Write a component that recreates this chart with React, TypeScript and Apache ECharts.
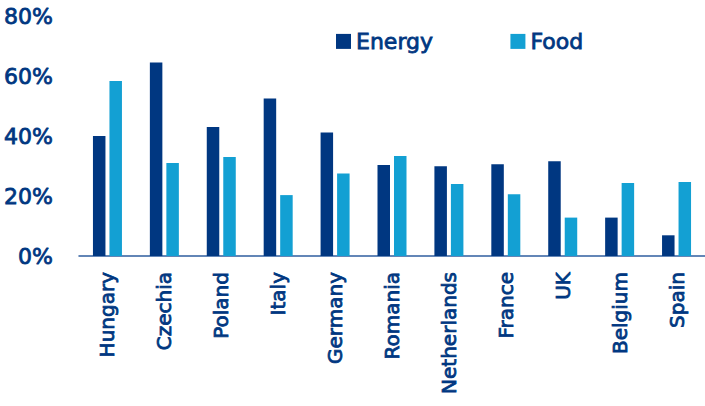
import React, { useEffect, useRef } from "react";
import * as echarts from "echarts";

const categories = ["Hungary", "Czechia", "Poland", "Italy", "Germany", "Romania", "Netherlands", "France", "UK", "Belgium", "Spain"];
const energyValues = [40, 64.5, 43, 52.5, 41.2, 30.3, 29.9, 30.6, 31.6, 12.8, 6.9];
const foodValues = [58.3, 31, 33, 20.3, 27.5, 33.3, 24, 20.6, 12.8, 24.3, 24.7];
const yTicks = [0, 20, 40, 60, 80];

const NAVY = "#003781";
const CYAN = "#13A0D3";
const FONT = "DejaVu Sans";
const THICK = { textBorderColor: NAVY, textBorderWidth: 0.8 };

export default function App() {
  const ref = useRef<HTMLDivElement>(null);
  useEffect(() => {
    if (!ref.current) return;
    const chart = echarts.init(ref.current, undefined, { renderer: "svg" });
    chart.setOption({
      animation: false,
      backgroundColor: "#ffffff",
      legend: {
        left: 331,
        top: 25,
        itemWidth: 15,
        itemHeight: 15,
        itemGap: 77,
        icon: "rect",
        textStyle: { color: NAVY, fontFamily: FONT, fontSize: 22, ...THICK },
        data: ["Energy", "Food"],
      },
      grid: { left: 79, right: 0, top: 16, bottom: 150, containLabel: false },
      xAxis: {
        type: "category",
        data: categories,
        axisLine: { show: true, lineStyle: { color: "#2F5E9F", width: 1.5 } },
        axisTick: { show: false },
        axisLabel: {
          rotate: 90,
          margin: 16,
          interval: 0,
          color: NAVY,
          fontFamily: FONT,
          fontSize: 20,
          ...THICK,
        },
      },
      yAxis: {
        type: "value",
        min: yTicks[0],
        max: yTicks[yTicks.length - 1],
        interval: 20,
        splitLine: { show: false },
        axisLine: { show: false },
        axisTick: { show: false },
        axisLabel: {
          margin: 26,
          color: NAVY,
          fontFamily: FONT,
          fontSize: 22,
          ...THICK,
          formatter: (v: number) => `${v}%`,
        },
      },
      series: [
        {
          name: "Energy",
          type: "bar",
          data: energyValues,
          barWidth: 12.5,
          barGap: "32%",
          itemStyle: { color: NAVY },
        },
        {
          name: "Food",
          type: "bar",
          data: foodValues,
          barWidth: 12.5,
          itemStyle: { color: CYAN },
        },
      ],
    });
    return () => chart.dispose();
  }, []);
  return <div ref={ref} style={{ width: 705, height: 406, position: "absolute", left: 0, top: 0 }} />;
}
